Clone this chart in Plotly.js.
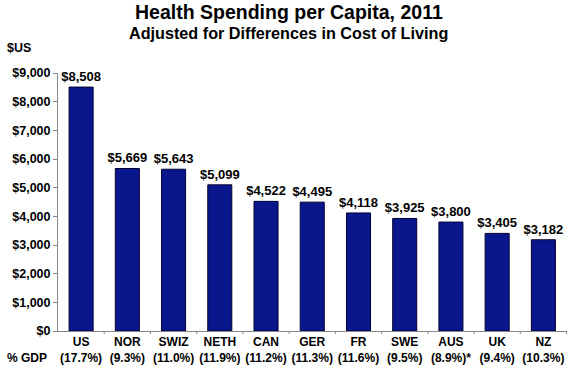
<!DOCTYPE html>
<html><head><meta charset="utf-8">
<script src="https://cdn.plot.ly/plotly-3.0.1.min.js"></script>
<style>body{margin:0;padding:0;background:#fff}#chart{width:570px;height:366px}</style>
</head><body><div id="chart"></div>
<script>
const countries = ['US','NOR','SWIZ','NETH','CAN','GER','FR','SWE','AUS','UK','NZ'];
const gdpShare = ['(17.7%)','(9.3%)','(11.0%)','(11.9%)','(11.2%)','(11.3%)','(11.6%)','(9.5%)','(8.9%)*','(9.4%)','(10.3%)'];
const spending = [8508,5669,5643,5099,4522,4495,4118,3925,3800,3405,3182];
const yTicks = [0,1000,2000,3000,4000,5000,6000,7000,8000,9000];

const fmt = v => '$' + v.toLocaleString('en-US');
const font = 'Liberation Sans, Arial, sans-serif';

const trace = {
  type: 'bar',
  x: countries,
  y: spending,
  marker: {color: '#0a168c', line: {color: '#000033', width: 1}},
  text: spending.map(v => '<b>' + fmt(v) + '</b>'),
  textposition: 'outside',
  constraintext: 'none',
  cliponaxis: false,
  textfont: {family: font, size: 13, color: '#000'},
  hoverinfo: 'none'
};

const layout = {
  width: 570, height: 366,
  margin: {l: 58, r: 3, t: 73, b: 35},
  paper_bgcolor: '#fff', plot_bgcolor: '#fff',
  showlegend: false,
  bargap: 0.48,
  font: {family: font, color: '#000'},
  xaxis: {
    tickmode: 'array',
    tickvals: countries,
    ticktext: countries.map((c, i) => '<b>' + c + '</b><br><b>' + gdpShare[i] + '</b>'),
    tickfont: {size: 12, family: font},
    showline: true, linecolor: '#888', linewidth: 1,
    ticks: 'outside', ticklen: 0,
    showgrid: false, zeroline: false,
    fixedrange: true
  },
  yaxis: {
    range: [0, 9000],
    tickmode: 'array',
    tickvals: yTicks,
    ticktext: yTicks.map(v => '<b>' + fmt(v) + '</b>'),
    tickfont: {size: 12.5, family: font},
    showline: true, linecolor: '#888', linewidth: 1,
    ticks: 'outside', ticklen: 4, tickcolor: '#888',
    showgrid: false, zeroline: false,
    fixedrange: true
  },
  shapes: countries.map((c, i) => ({
    type: 'line', xref: 'x', yref: 'paper',
    x0: i + 0.5, x1: i + 0.5, y0: 0, y1: -0.012,
    line: {color: '#888', width: 1}
  })),
  annotations: [
    {text: '<b>Health Spending per Capita, 2011</b>', xref: 'paper', yref: 'paper',
     x: 0.453, y: 1, yshift: 61, xanchor: 'center', yanchor: 'middle', showarrow: false,
     font: {size: 19.5, family: font}},
    {text: '<b>Adjusted for Differences in Cost of Living</b>', xref: 'paper', yref: 'paper',
     x: 0.453, y: 1, yshift: 40, xanchor: 'center', yanchor: 'middle', showarrow: false,
     font: {size: 16.2, family: font}},
    {text: '<b>$US</b>', xref: 'paper', yref: 'paper',
     x: 0, xshift: -53, y: 1, yshift: 25, xanchor: 'left', yanchor: 'middle', showarrow: false,
     font: {size: 12.5, family: font}},
    {text: '<b>% GDP</b>', xref: 'paper', yref: 'paper',
     x: 0, xshift: -53, y: 0, yshift: -27, xanchor: 'left', yanchor: 'middle', showarrow: false,
     font: {size: 12, family: font}}
  ]
};

Plotly.newPlot('chart', [trace], layout, {displayModeBar: false, staticPlot: true});
</script></body></html>
